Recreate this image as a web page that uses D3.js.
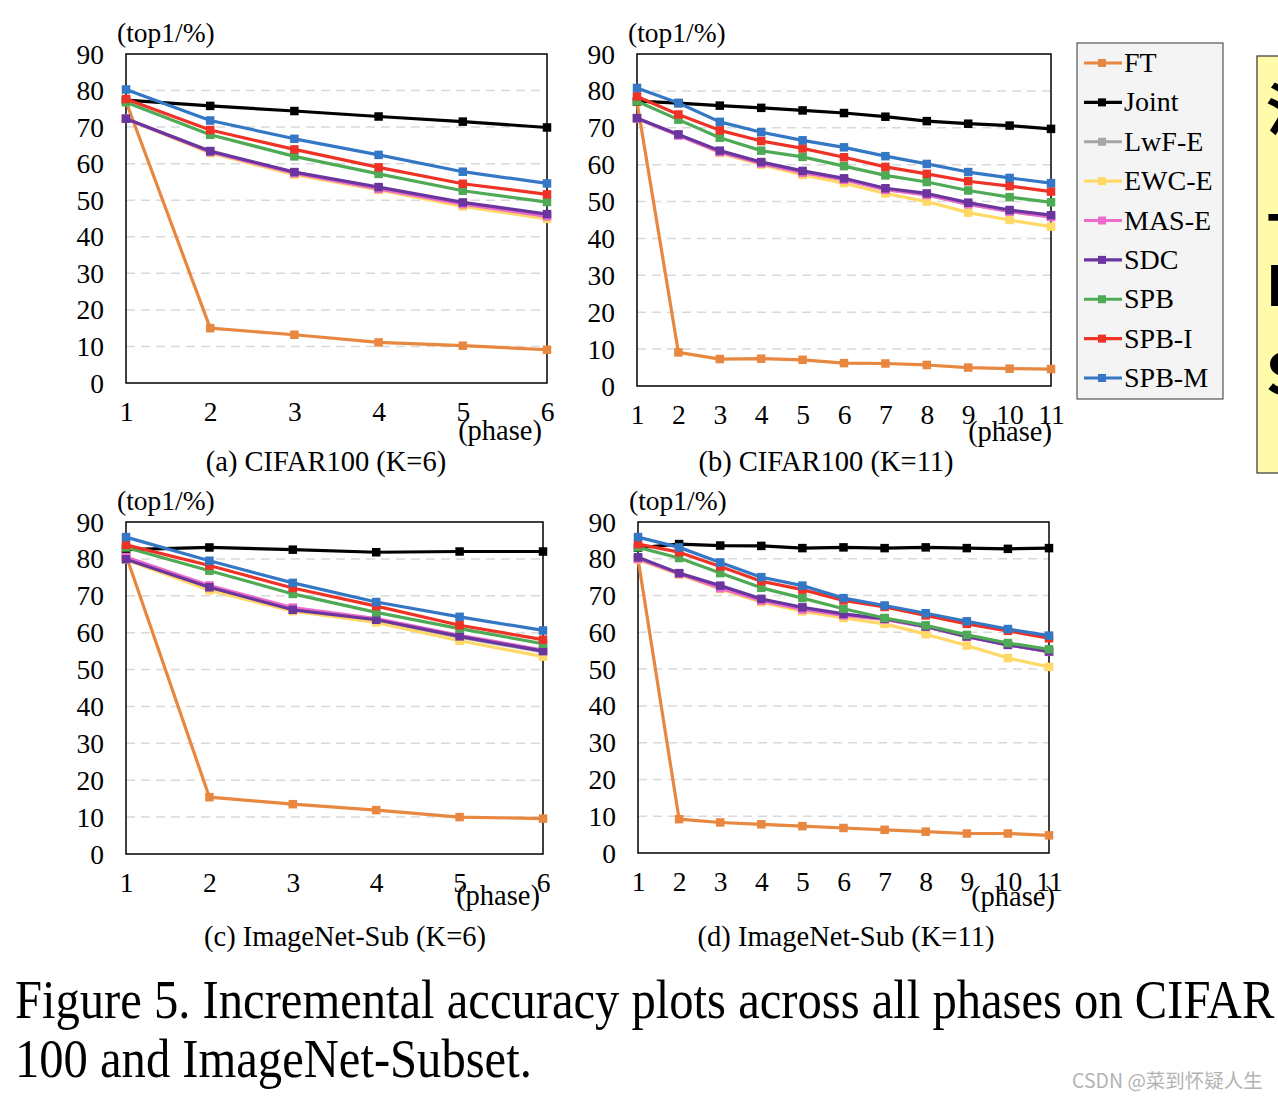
<!DOCTYPE html>
<html>
<head>
<meta charset="utf-8">
<script src="https://cdn.jsdelivr.net/npm/d3@7"></script>
<style>
  html, body { margin: 0; padding: 0; background: #fff; }
  svg { display: block; }
</style>
</head>
<body>
<svg id="chart" width="1278" height="1098"></svg>
<script>
// ---------------- DATA ----------------
const seriesNames = ["FT", "Joint", "LwF-E", "EWC-E", "MAS-E", "SDC", "SPB", "SPB-I", "SPB-M"];
const yTicks = [0, 10, 20, 30, 40, 50, 60, 70, 80, 90];
const phasesK6 = [1, 2, 3, 4, 5, 6];
const phasesK11 = [1, 2, 3, 4, 5, 6, 7, 8, 9, 10, 11];

const cifarK6 = {
  "FT":    [77.0, 15.0, 13.2, 11.1, 10.2, 9.1],
  "Joint": [77.4, 75.8, 74.4, 72.9, 71.5, 69.9],
  "LwF-E": [72.3, 63.5, 57.6, 53.4, 49.2, 46.0],
  "EWC-E": [72.3, 62.9, 57.0, 52.8, 48.3, 44.9],
  "MAS-E": [72.3, 63.2, 57.4, 53.1, 48.9, 45.6],
  "SDC":   [72.3, 63.4, 57.7, 53.6, 49.4, 46.2],
  "SPB":   [76.8, 67.9, 62.0, 57.2, 52.6, 49.5],
  "SPB-I": [77.7, 69.2, 63.9, 59.0, 54.5, 51.6],
  "SPB-M": [80.3, 71.8, 66.8, 62.4, 57.8, 54.6]
};
const cifarK11 = {
  "FT":    [77.0, 9.1, 7.3, 7.4, 7.1, 6.2, 6.1, 5.7, 5.0, 4.7, 4.6],
  "Joint": [77.2, 76.7, 76.0, 75.4, 74.7, 74.0, 73.0, 71.8, 71.1, 70.6, 69.7],
  "LwF-E": [72.6, 68.1, 63.6, 60.5, 58.0, 56.0, 53.3, 51.8, 49.2, 47.3, 45.9],
  "EWC-E": [72.6, 68.0, 63.2, 60.0, 57.2, 55.0, 52.2, 50.0, 47.0, 45.0, 43.2],
  "MAS-E": [72.6, 67.9, 63.4, 60.3, 57.8, 55.9, 53.2, 51.8, 49.3, 47.3, 45.8],
  "SDC":   [72.6, 68.2, 63.8, 60.7, 58.3, 56.3, 53.6, 52.2, 49.7, 47.7, 46.3],
  "SPB":   [77.2, 72.2, 67.3, 63.8, 62.1, 59.6, 57.1, 55.3, 53.0, 51.2, 49.8],
  "SPB-I": [78.5, 73.6, 69.3, 66.4, 64.4, 62.0, 59.4, 57.5, 55.5, 54.2, 52.7],
  "SPB-M": [80.8, 76.7, 71.6, 68.8, 66.6, 64.7, 62.3, 60.2, 58.0, 56.4, 55.0]
};
const imagenetK6 = {
  "FT":    [81.0, 15.4, 13.5, 11.9, 10.0, 9.6],
  "Joint": [82.5, 83.1, 82.5, 81.8, 82.0, 82.0],
  "LwF-E": [80.0, 72.2, 66.1, 63.4, 58.8, 54.8],
  "EWC-E": [79.8, 71.5, 65.8, 62.8, 57.8, 53.5],
  "MAS-E": [80.5, 72.8, 66.8, 63.8, 59.3, 55.3],
  "SDC":   [79.9, 72.3, 66.2, 63.5, 59.0, 55.0],
  "SPB":   [83.1, 76.8, 70.5, 65.5, 61.1, 57.0],
  "SPB-I": [83.8, 78.2, 72.1, 67.2, 62.0, 58.1],
  "SPB-M": [85.9, 79.5, 73.5, 68.3, 64.3, 60.6]
};
const imagenetK11 = {
  "FT":    [80.0, 9.2, 8.3, 7.8, 7.3, 6.8, 6.3, 5.8, 5.3, 5.3, 4.8],
  "Joint": [83.0, 84.0, 83.6, 83.5, 82.9, 83.1, 82.9, 83.1, 82.9, 82.7, 82.9],
  "LwF-E": [80.2, 76.0, 72.4, 68.9, 66.5, 64.8, 63.6, 61.5, 58.8, 56.6, 54.7],
  "EWC-E": [79.8, 75.7, 71.8, 68.2, 65.7, 63.9, 62.3, 59.5, 56.4, 53.0, 50.6],
  "MAS-E": [80.0, 75.9, 72.0, 68.6, 66.2, 64.6, 63.5, 61.5, 58.8, 56.6, 54.8],
  "SDC":   [80.4, 76.1, 72.7, 69.1, 66.8, 65.0, 63.7, 61.6, 58.9, 56.6, 54.8],
  "SPB":   [83.1, 80.2, 76.1, 72.1, 69.3, 66.4, 63.9, 61.9, 59.3, 57.1, 55.4],
  "SPB-I": [84.0, 81.8, 77.9, 73.9, 71.6, 68.7, 66.9, 64.6, 62.3, 60.4, 58.4],
  "SPB-M": [85.9, 83.1, 79.0, 75.0, 72.7, 69.3, 67.3, 65.2, 63.0, 60.9, 59.1]
};
const panelTitles = ["(a) CIFAR100 (K=6)", "(b) CIFAR100 (K=11)", "(c) ImageNet-Sub (K=6)", "(d) ImageNet-Sub (K=11)"];
const figureCaption = ["Figure 5. Incremental accuracy plots across all phases on CIFAR", "100 and ImageNet-Subset."];
const sideNoteLines = ["汁", "上", "B", "S"];
const watermark = "CSDN @菜到怀疑人生";

// ---------------- STYLE / LAYOUT ----------------
const colors = {
  "FT": "#E8873F", "Joint": "#000000", "LwF-E": "#A6A6A6", "EWC-E": "#FFD866",
  "MAS-E": "#EC6BCB", "SDC": "#6B35A0", "SPB": "#4FAA55", "SPB-I": "#EE3226", "SPB-M": "#3477C5"
};
const serif = "'Liberation Serif', 'Times New Roman', serif";
const panels = [
  { data: cifarK6,     phases: phasesK6,  title: panelTitles[0], left: 126, right: 547,  top: 54,  bottom: 383, titleX: 326, titleY: 471, phaseX: 542,  phaseY: 440 },
  { data: cifarK11,    phases: phasesK11, title: panelTitles[1], left: 637, right: 1051, top: 54,  bottom: 386, titleX: 826, titleY: 471, phaseX: 1052, phaseY: 441 },
  { data: imagenetK6,  phases: phasesK6,  title: panelTitles[2], left: 126, right: 543,  top: 522, bottom: 854, titleX: 345, titleY: 946, phaseX: 540,  phaseY: 905 },
  { data: imagenetK11, phases: phasesK11, title: panelTitles[3], left: 638, right: 1049, top: 522, bottom: 853, titleX: 846, titleY: 946, phaseX: 1055, phaseY: 906 }
];

const svg = d3.select("#chart");

panels.forEach(p => {
  const x = d3.scaleLinear().domain([1, d3.max(p.phases)]).range([p.left, p.right]);
  const y = d3.scaleLinear().domain([0, 90]).range([p.bottom, p.top]);
  const g = svg.append("g");

  // gridlines
  g.selectAll(".grid").data(yTicks.filter(t => t > 0 && t < 90)).enter().append("line")
    .attr("x1", p.left).attr("x2", p.right)
    .attr("y1", d => y(d)).attr("y2", d => y(d))
    .attr("stroke", "#d9d9d9").attr("stroke-width", 1.5).attr("stroke-dasharray", "9,6");

  // y axis labels
  const yAxis = d3.axisLeft(y).tickValues(yTicks).tickSize(0).tickPadding(22);
  const ya = g.append("g").attr("transform", `translate(${p.left},0)`).call(yAxis);
  ya.select(".domain").remove();
  ya.selectAll("text").attr("font-family", serif).attr("font-size", 27.5).attr("fill", "#000").attr("dy", "0.33em");

  // x axis labels
  const xAxis = d3.axisBottom(x).tickValues(p.phases).tickFormat(d3.format("d")).tickSize(0).tickPadding(0);
  const xa = g.append("g").attr("transform", `translate(0,${p.bottom})`).call(xAxis);
  xa.select(".domain").remove();
  xa.selectAll("text").attr("font-family", serif).attr("font-size", 27.5).attr("fill", "#000").attr("dy", null).attr("y", 38);

  // frame
  g.append("rect").attr("x", p.left).attr("y", p.top)
    .attr("width", p.right - p.left).attr("height", p.bottom - p.top)
    .attr("fill", "none").attr("stroke", "#000").attr("stroke-width", 1.5);

  // series
  const line = d3.line().x((d, i) => x(p.phases[i])).y(d => y(d));
  seriesNames.forEach(name => {
    const vals = p.data[name];
    const sg = g.append("g");
    sg.append("path").datum(vals).attr("d", line)
      .attr("fill", "none").attr("stroke", colors[name]).attr("stroke-width", 3.2)
      .attr("stroke-linejoin", "round");
    const ms = 8.5;
    sg.selectAll("rect").data(vals).enter().append("rect")
      .attr("x", (d, i) => x(p.phases[i]) - ms / 2)
      .attr("y", d => y(d) - ms / 2)
      .attr("width", ms).attr("height", ms)
      .attr("fill", colors[name]);
  });

  // labels
  g.append("text").attr("x", p.left - 9).attr("y", p.top - 12)
    .attr("font-family", serif).attr("font-size", 27.5).text("(top1/%)");
  g.append("text").attr("x", p.phaseX).attr("y", p.phaseY).attr("text-anchor", "end")
    .attr("font-family", serif).attr("font-size", 28.5).text("(phase)");
  g.append("text").attr("x", p.titleX).attr("y", p.titleY).attr("text-anchor", "middle")
    .attr("font-family", serif).attr("font-size", 28.5).text(p.title);
});

// legend
const lg = svg.append("g");
lg.append("rect").attr("x", 1077).attr("y", 43).attr("width", 146).attr("height", 356)
  .attr("fill", "#f4f4f4").attr("stroke", "#333").attr("stroke-width", 1);
const legY = d3.scalePoint().domain(seriesNames).range([63, 378]);
seriesNames.forEach(name => {
  const yy = legY(name);
  lg.append("line").attr("x1", 1084).attr("x2", 1122).attr("y1", yy).attr("y2", yy)
    .attr("stroke", colors[name]).attr("stroke-width", 3.2);
  lg.append("rect").attr("x", 1098).attr("y", yy - 4).attr("width", 8).attr("height", 8).attr("fill", colors[name]);
  lg.append("text").attr("x", 1124).attr("y", yy + 9).attr("font-family", serif).attr("font-size", 28).text(name);
});

// yellow side note (clipped by page edge)
svg.append("rect").attr("x", 1257).attr("y", 56).attr("width", 40).attr("height", 417)
  .attr("fill", "#FFFBA8").attr("stroke", "#333").attr("stroke-width", 1.2);
sideNoteLines.forEach((t, i) => {
  svg.append("text").attr("x", 1266).attr("y", 130 + i * 88)
    .attr("font-family", "'Noto Sans CJK SC', 'Liberation Sans', sans-serif").attr("font-weight", "bold")
    .attr("font-size", 56).text(t);
});

// figure caption
figureCaption.forEach((t, i) => {
  svg.append("text").attr("transform", `translate(15,${1018 + i * 59}) scale(0.9,1)`)
    .attr("font-family", serif).attr("font-size", 54).text(t);
});

// watermark
svg.append("text").attr("x", 1072).attr("y", 1088)
  .attr("font-family", "'Noto Sans CJK SC', sans-serif").attr("font-size", 19.5)
  .attr("fill", "#b3b3b3").text(watermark);
</script>
</body>
</html>
